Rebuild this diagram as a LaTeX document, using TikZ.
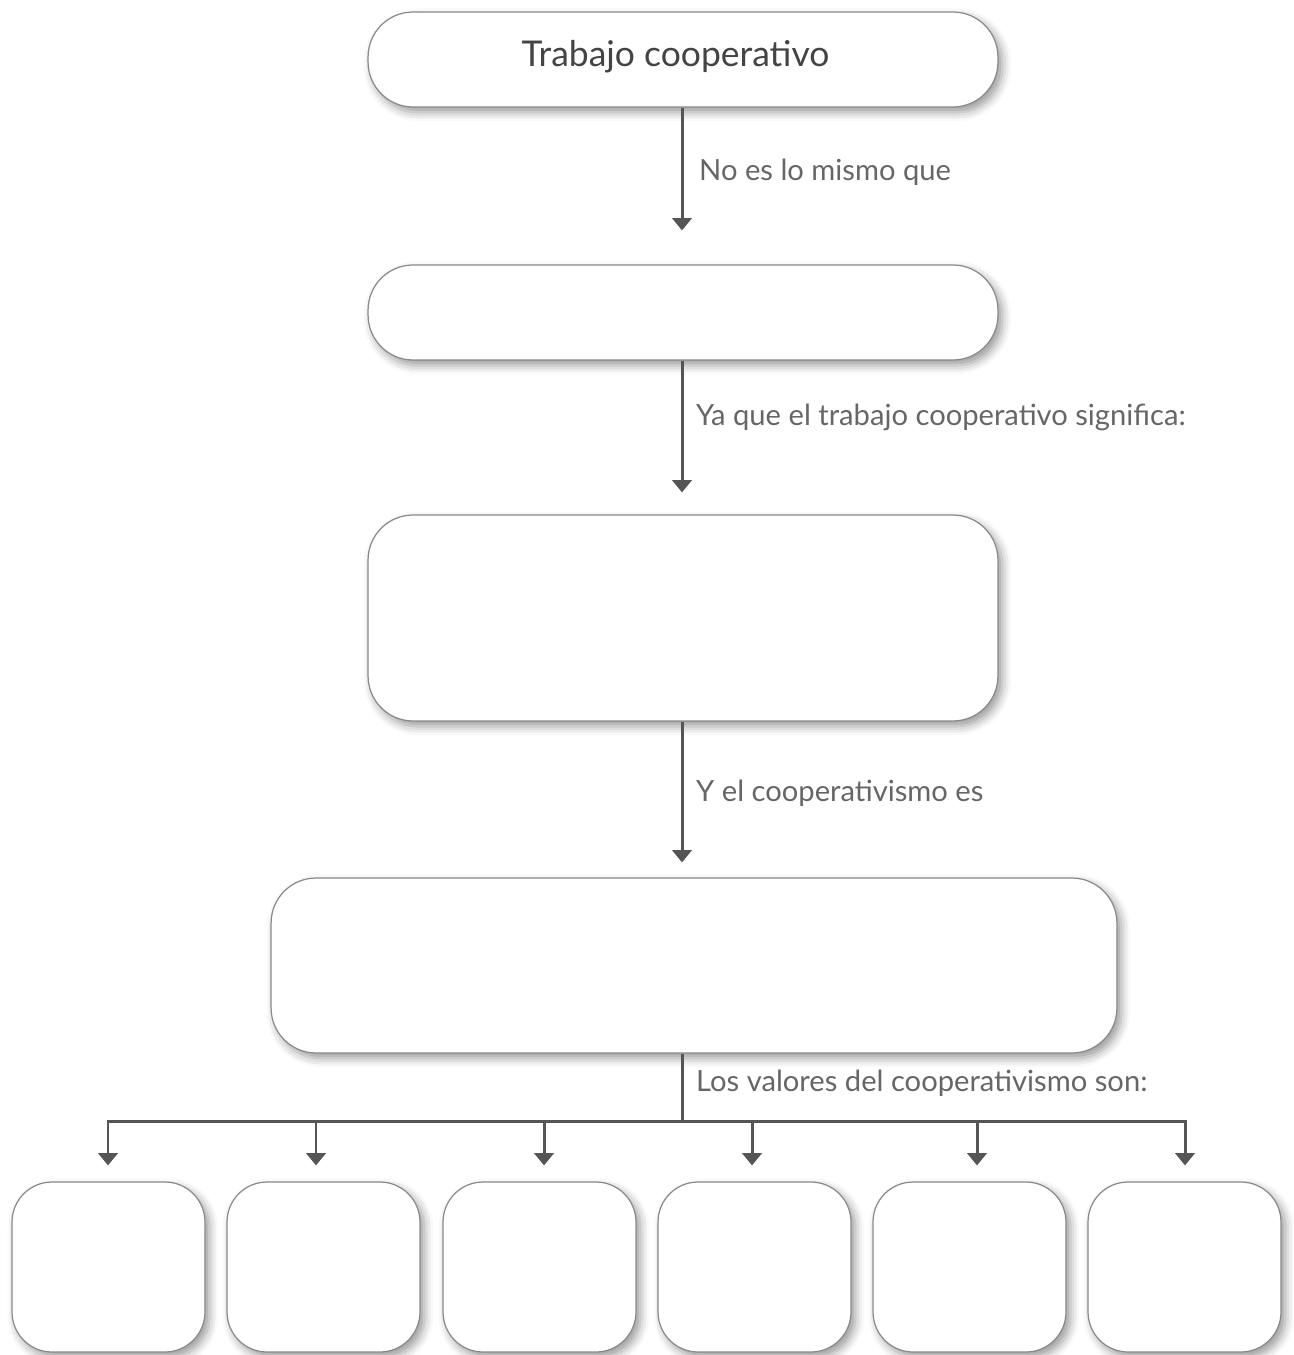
\documentclass[tikz,border=0pt]{standalone}
\usepackage{fontspec}
\setmainfont{Lato}
\usetikzlibrary{arrows.meta,shadows.blur}
\definecolor{linec}{HTML}{555555}
\definecolor{boxline}{HTML}{8A8A8A}
\definecolor{titlec}{HTML}{444444}
\definecolor{labc}{HTML}{666666}
\tikzset{
  box/.style={draw=boxline, line width=0.7pt, fill=white, rounded corners=0.9cm,
    blur shadow={shadow xshift=2.5pt, shadow yshift=-3pt, shadow blur radius=5pt, shadow opacity=40}},
  smallbox/.style={box, rounded corners=0.8cm, minimum width=3.86cm, minimum height=3.4cm},
  conn/.style={draw=linec, line width=1.7pt},
  arr/.style={conn, -{Triangle[width=11pt,length=7pt]}},
  lab/.style={anchor=west, text=labc, font=\fontsize{16.6}{20}\selectfont},
}
\begin{document}
\begin{tikzpicture}[x=0.02cm, y=-0.02cm]
\useasboundingbox (0,0) rectangle (1294,1355);
\node[box, minimum width=12.6cm, minimum height=1.9cm] (b1) at (683,59.5) {};
\node[text=titlec, font=\fontsize{20.2}{24}\selectfont] (t) at (675.5,57) {Trabajo cooperativo};
\node[box, minimum width=12.6cm, minimum height=1.9cm] (b2) at (683,312.5) {};
\node[box, minimum width=12.6cm, minimum height=4.12cm] (b3) at (683,618) {};
\node[box, minimum width=16.92cm, minimum height=3.5cm] (b4) at (694,965.5) {};
\node[smallbox] (v1) at (108.5,1267) {};
\node[smallbox] (v2) at (323.5,1267) {};
\node[smallbox] (v3) at (539.5,1267) {};
\node[smallbox] (v4) at (754.5,1267) {};
\node[smallbox] (v5) at (969.5,1267) {};
\node[smallbox] (v6) at (1184.5,1267) {};

\draw[arr, shorten >=0.68cm] (b1.south -| 682,0) -- (b2.north -| 682,0);
\draw[arr, shorten >=0.44cm] (b2.south -| 682,0) -- (b3.north -| 682,0);
\draw[arr, shorten >=0.3cm] (b3.south -| 682,0) -- (b4.north -| 682,0);

\coordinate (j) at (682,1121);
\coordinate (t1) at (108,1121);
\coordinate (t2) at (316,1121);
\coordinate (t3) at (544,1121);
\coordinate (t4) at (752,1121);
\coordinate (t5) at (977,1121);
\coordinate (t6) at (1185,1121);
\draw[conn] (b4.south -| j) -- (j);
\draw[conn, line cap=rect] (t1) -- (t6);
\foreach \i in {1,...,6}{
  \draw[arr, shorten >=0.32cm] (t\i) -- (t\i |- v\i.north);
}

\node[lab] (l1) at (693,172) {No es lo mismo que};
\node[lab] (l2) at (690,417) {Ya que el trabajo cooperativo significa:};
\node[lab] (l3) at (690,793) {Y el cooperativismo es};
\node[lab] (l4) at (690,1083) {Los valores del cooperativismo son:};
\end{tikzpicture}
\end{document}
